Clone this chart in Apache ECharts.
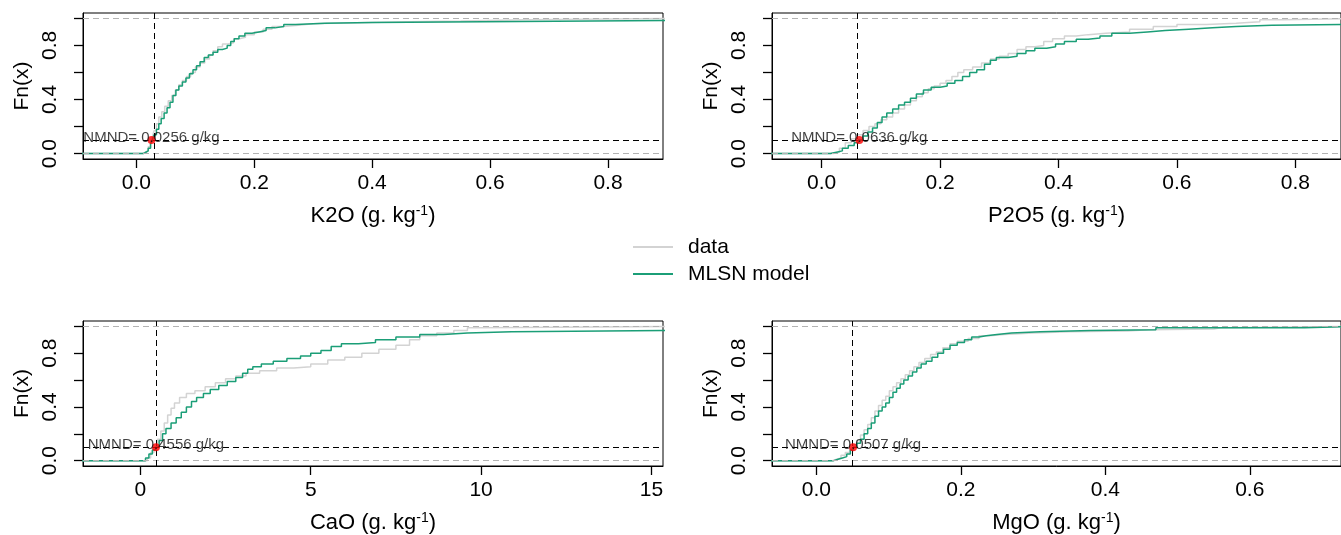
<!DOCTYPE html>
<html>
<head>
<meta charset="utf-8">
<script src="https://cdn.jsdelivr.net/npm/echarts@6/dist/echarts.min.js"></script>
<style>
  html, body { margin: 0; padding: 0; background: #fff; }
  #chart { width: 1341px; height: 535px; }
</style>
</head>
<body>
<div id="chart"></div>
<script>
// ECDF curves, [x, Fn(x)] at each step
const k2oModel = [[-0.1,0],[0.008,0],[0.012,0.01],[0.016,0.02],[0.02,0.04],[0.024,0.07],[0.027,0.1],[0.03,0.14],[0.034,0.18],[0.038,0.22],[0.042,0.26],[0.047,0.3],[0.052,0.34],[0.057,0.38],[0.062,0.43],[0.067,0.47],[0.072,0.5],[0.078,0.53],[0.084,0.56],[0.09,0.59],[0.096,0.62],[0.102,0.65],[0.108,0.68],[0.115,0.71],[0.122,0.73],[0.13,0.75],[0.138,0.77],[0.146,0.78],[0.154,0.8],[0.16,0.83],[0.166,0.85],[0.174,0.87],[0.184,0.89],[0.196,0.9],[0.208,0.91],[0.22,0.93],[0.235,0.94],[0.25,0.955],[0.27,0.965],[0.32,0.97],[0.4,0.978],[0.65,0.985],[0.9,0.985]];
const k2oData = [[-0.1,0],[0.005,0],[0.01,0.01],[0.015,0.02],[0.02,0.05],[0.024,0.08],[0.027,0.12],[0.03,0.17],[0.034,0.22],[0.038,0.27],[0.043,0.31],[0.048,0.35],[0.054,0.39],[0.06,0.43],[0.066,0.47],[0.072,0.51],[0.078,0.54],[0.085,0.57],[0.092,0.6],[0.1,0.64],[0.108,0.67],[0.116,0.7],[0.124,0.73],[0.13,0.76],[0.138,0.79],[0.146,0.81],[0.155,0.82],[0.165,0.85],[0.175,0.86],[0.185,0.88],[0.2,0.9],[0.215,0.92],[0.23,0.94],[0.25,0.95],[0.275,0.96],[0.3,0.965],[0.33,0.975],[0.46,0.98],[0.55,0.99],[0.66,1],[0.9,1]];

const p2o5Model = [[-0.1,0],[0.005,0],[0.015,0.01],[0.025,0.02],[0.035,0.04],[0.045,0.06],[0.055,0.08],[0.062,0.1],[0.07,0.13],[0.078,0.16],[0.086,0.19],[0.094,0.23],[0.102,0.27],[0.11,0.3],[0.12,0.33],[0.13,0.36],[0.14,0.38],[0.15,0.41],[0.16,0.44],[0.172,0.47],[0.185,0.49],[0.2,0.5],[0.212,0.52],[0.225,0.54],[0.238,0.57],[0.25,0.6],[0.262,0.62],[0.275,0.66],[0.285,0.69],[0.295,0.71],[0.315,0.72],[0.33,0.74],[0.345,0.76],[0.36,0.78],[0.38,0.79],[0.395,0.81],[0.41,0.83],[0.43,0.845],[0.45,0.855],[0.47,0.87],[0.49,0.89],[0.52,0.9],[0.55,0.91],[0.58,0.92],[0.62,0.93],[0.66,0.94],[0.7,0.95],[0.76,0.955],[0.9,0.955]];
const p2o5Data = [[-0.1,0],[0.01,0],[0.02,0.01],[0.03,0.04],[0.04,0.08],[0.05,0.11],[0.06,0.14],[0.07,0.17],[0.08,0.2],[0.09,0.22],[0.1,0.25],[0.11,0.27],[0.12,0.3],[0.13,0.33],[0.14,0.36],[0.15,0.39],[0.16,0.42],[0.17,0.45],[0.18,0.48],[0.19,0.5],[0.2,0.52],[0.21,0.54],[0.22,0.57],[0.23,0.6],[0.24,0.62],[0.255,0.64],[0.27,0.67],[0.285,0.7],[0.3,0.72],[0.315,0.74],[0.33,0.77],[0.345,0.79],[0.36,0.8],[0.375,0.83],[0.39,0.85],[0.41,0.87],[0.43,0.88],[0.45,0.89],[0.48,0.9],[0.52,0.92],[0.56,0.94],[0.6,0.955],[0.65,0.965],[0.7,0.975],[0.74,0.99],[0.78,1],[0.9,1]];

const caoModel = [[-2,0],[0.05,0],[0.15,0.02],[0.25,0.05],[0.35,0.08],[0.45,0.1],[0.55,0.15],[0.65,0.2],[0.75,0.24],[0.9,0.28],[1.05,0.32],[1.2,0.36],[1.35,0.4],[1.5,0.44],[1.65,0.47],[1.85,0.5],[2.05,0.53],[2.3,0.56],[2.55,0.59],[2.8,0.62],[3,0.65],[3.15,0.68],[3.3,0.7],[3.55,0.72],[3.9,0.74],[4.3,0.76],[4.7,0.78],[5,0.8],[5.3,0.82],[5.6,0.85],[5.9,0.87],[6.4,0.88],[6.9,0.9],[7.5,0.92],[8.2,0.94],[8.9,0.95],[9.6,0.96],[10.9,0.97],[15.5,0.97]];
const caoData = [[-2,0],[0.1,0],[0.2,0.02],[0.3,0.06],[0.4,0.1],[0.5,0.16],[0.6,0.22],[0.7,0.28],[0.8,0.34],[0.9,0.39],[1,0.43],[1.15,0.47],[1.35,0.5],[1.6,0.52],[1.9,0.55],[2.2,0.58],[2.5,0.61],[2.8,0.63],[3.1,0.65],[3.5,0.67],[4,0.69],[4.5,0.7],[5,0.72],[5.5,0.75],[6,0.77],[6.5,0.8],[7,0.83],[7.5,0.86],[7.9,0.9],[8.2,0.93],[8.7,0.95],[9.2,0.97],[9.6,0.99],[9.9,1],[15.5,1]];

const mgoModel = [[-0.1,0],[0.018,0],[0.024,0.01],[0.03,0.02],[0.036,0.03],[0.042,0.05],[0.047,0.08],[0.051,0.1],[0.056,0.13],[0.061,0.16],[0.066,0.2],[0.071,0.24],[0.076,0.28],[0.081,0.33],[0.086,0.37],[0.091,0.4],[0.096,0.43],[0.101,0.47],[0.106,0.51],[0.111,0.54],[0.116,0.57],[0.121,0.6],[0.127,0.63],[0.133,0.66],[0.139,0.69],[0.145,0.72],[0.152,0.74],[0.16,0.77],[0.168,0.8],[0.176,0.83],[0.185,0.86],[0.195,0.88],[0.205,0.9],[0.215,0.92],[0.225,0.93],[0.235,0.94],[0.25,0.95],[0.27,0.96],[0.31,0.97],[0.38,0.975],[0.47,0.99],[0.676,1],[0.75,1]];
const mgoData = [[-0.1,0],[0.015,0],[0.022,0.01],[0.028,0.02],[0.034,0.04],[0.04,0.06],[0.046,0.09],[0.051,0.12],[0.056,0.15],[0.061,0.19],[0.066,0.23],[0.071,0.27],[0.076,0.32],[0.081,0.37],[0.086,0.41],[0.091,0.45],[0.096,0.48],[0.101,0.52],[0.106,0.55],[0.111,0.58],[0.117,0.61],[0.123,0.64],[0.129,0.67],[0.135,0.7],[0.142,0.73],[0.15,0.76],[0.158,0.79],[0.166,0.81],[0.175,0.84],[0.185,0.87],[0.195,0.89],[0.21,0.91],[0.225,0.93],[0.24,0.94],[0.26,0.95],[0.3,0.96],[0.35,0.965],[0.43,0.975],[0.46,0.98],[0.55,0.99],[0.56,1],[0.75,1]];

const nutrients = ['K2O', 'P2O5', 'CaO', 'MgO'];
const nmndValues = [0.0256, 0.0636, 0.4556, 0.0507];
const xRanges = [[-0.0906, 0.8933], [-0.0838, 0.877], [-1.685, 15.34], [-0.0615, 0.7263]];
const xTicks = [[0, 0.2, 0.4, 0.6, 0.8], [0, 0.2, 0.4, 0.6, 0.8], [0, 5, 10, 15], [0, 0.2, 0.4, 0.6]];
const xDigits = [1, 1, 0, 1];
const yTicks = [0, 0.2, 0.4, 0.6, 0.8, 1];
const yLabels = [0, 0.4, 0.8];
const modelCurves = [k2oModel, p2o5Model, caoModel, mgoModel];
const dataCurves = [k2oData, p2o5Data, caoData, mgoData];

// panel boxes (pixels)
const boxes = [
  { left: 83, top: 13, width: 580, height: 146 },
  { left: 772, top: 13, width: 580, height: 146 },
  { left: 83, top: 321, width: 580, height: 146 },
  { left: 772, top: 321, width: 580, height: 146 }
];

const FONT = '"Liberation Sans", Arial, sans-serif';
const GREEN = '#1b9e77';
const GREY = '#d3d3d3';
const DASH = [6, 4];

const grids = [], xAxes = [], yAxes = [], series = [];
nutrients.forEach((nut, i) => {
  grids.push({ ...boxes[i], show: true, borderColor: '#000', borderWidth: 1, backgroundColor: 'transparent' });
  xAxes.push({
    type: 'value', gridIndex: i, min: xRanges[i][0], max: xRanges[i][1],
    name: '{t|' + nut + ' (g. kg}{s|-1}{t|)}',
    nameLocation: 'middle', nameGap: 45,
    nameTextStyle: {
      rich: {
        t: { fontSize: 22, fontFamily: FONT, color: '#000', lineHeight: 24 },
        s: { fontSize: 14, fontFamily: FONT, color: '#000', lineHeight: 12, verticalAlign: 'top' }
      }
    },
    axisLine: { show: true, onZero: false, lineStyle: { color: '#000', width: 1 } },
    splitLine: { show: false },
    axisTick: { show: true, length: 9, customValues: xTicks[i], lineStyle: { color: '#000', width: 1.3 } },
    axisLabel: {
      customValues: xTicks[i], margin: 14, fontSize: 21, fontFamily: FONT, color: '#000',
      formatter: (v) => Number(v).toFixed(xDigits[i])
    }
  });
  yAxes.push({
    type: 'value', gridIndex: i, min: -0.04, max: 1.04,
    name: 'Fn(x)', nameLocation: 'middle', nameGap: 50, nameRotate: 90,
    nameTextStyle: { fontSize: 21, fontFamily: FONT, color: '#000' },
    axisLine: { show: true, onZero: false, lineStyle: { color: '#000', width: 1 } },
    splitLine: { show: false },
    axisTick: { show: true, length: 9, customValues: yTicks, lineStyle: { color: '#000', width: 1.3 } },
    axisLabel: {
      customValues: yLabels, rotate: 90, margin: 22, fontSize: 21, fontFamily: FONT, color: '#000',
      formatter: (v) => Number(v).toFixed(1)
    }
  });
  series.push({
    type: 'line', name: 'data', xAxisIndex: i, yAxisIndex: i, data: dataCurves[i],
    step: 'end', symbol: 'none', z: 2,
    lineStyle: { color: GREY, width: 1.5 }, itemStyle: { color: GREY }
  });
  series.push({
    type: 'line', name: 'MLSN model', xAxisIndex: i, yAxisIndex: i, data: modelCurves[i],
    step: 'end', symbol: 'none', z: 3,
    lineStyle: { color: GREEN, width: 1.5 }, itemStyle: { color: GREEN }
  });
  series.push({
    type: 'scatter', name: 'nmnd' + i, xAxisIndex: i, yAxisIndex: i,
    data: [[nmndValues[i], 0.1]], symbolSize: 8, z: 5,
    itemStyle: { color: '#ff0000' },
    label: {
      show: true, position: 'inside', offset: [0, -2],
      fontSize: 15, fontFamily: FONT, color: '#111',
      formatter: 'NMND= ' + nmndValues[i] + ' g/kg'
    },
    markLine: {
      silent: true, symbol: 'none', animation: false, label: { show: false },
      data: [
        { yAxis: 0, lineStyle: { color: '#b3b3b3', type: DASH, width: 1 } },
        { yAxis: 1, lineStyle: { color: '#b3b3b3', type: DASH, width: 1 } },
        { yAxis: 0.1, lineStyle: { color: '#000', type: DASH, width: 1 } },
        { xAxis: nmndValues[i], lineStyle: { color: '#000', type: DASH, width: 1 } }
      ]
    }
  });
});

const chart = echarts.init(document.getElementById('chart'));
chart.setOption({
  animation: false,
  backgroundColor: '#fff',
  legend: {
    data: [{ name: 'data', icon: 'rect' }, { name: 'MLSN model', icon: 'rect' }],
    orient: 'vertical', left: 628, top: 231,
    itemWidth: 40, itemHeight: 2, itemGap: 5,
    textStyle: { fontSize: 21, fontFamily: FONT, color: '#000', lineHeight: 22, padding: [0, 0, 0, 10] }
  },
  grid: grids,
  xAxis: xAxes,
  yAxis: yAxes,
  series: series
});
</script>
</body>
</html>
